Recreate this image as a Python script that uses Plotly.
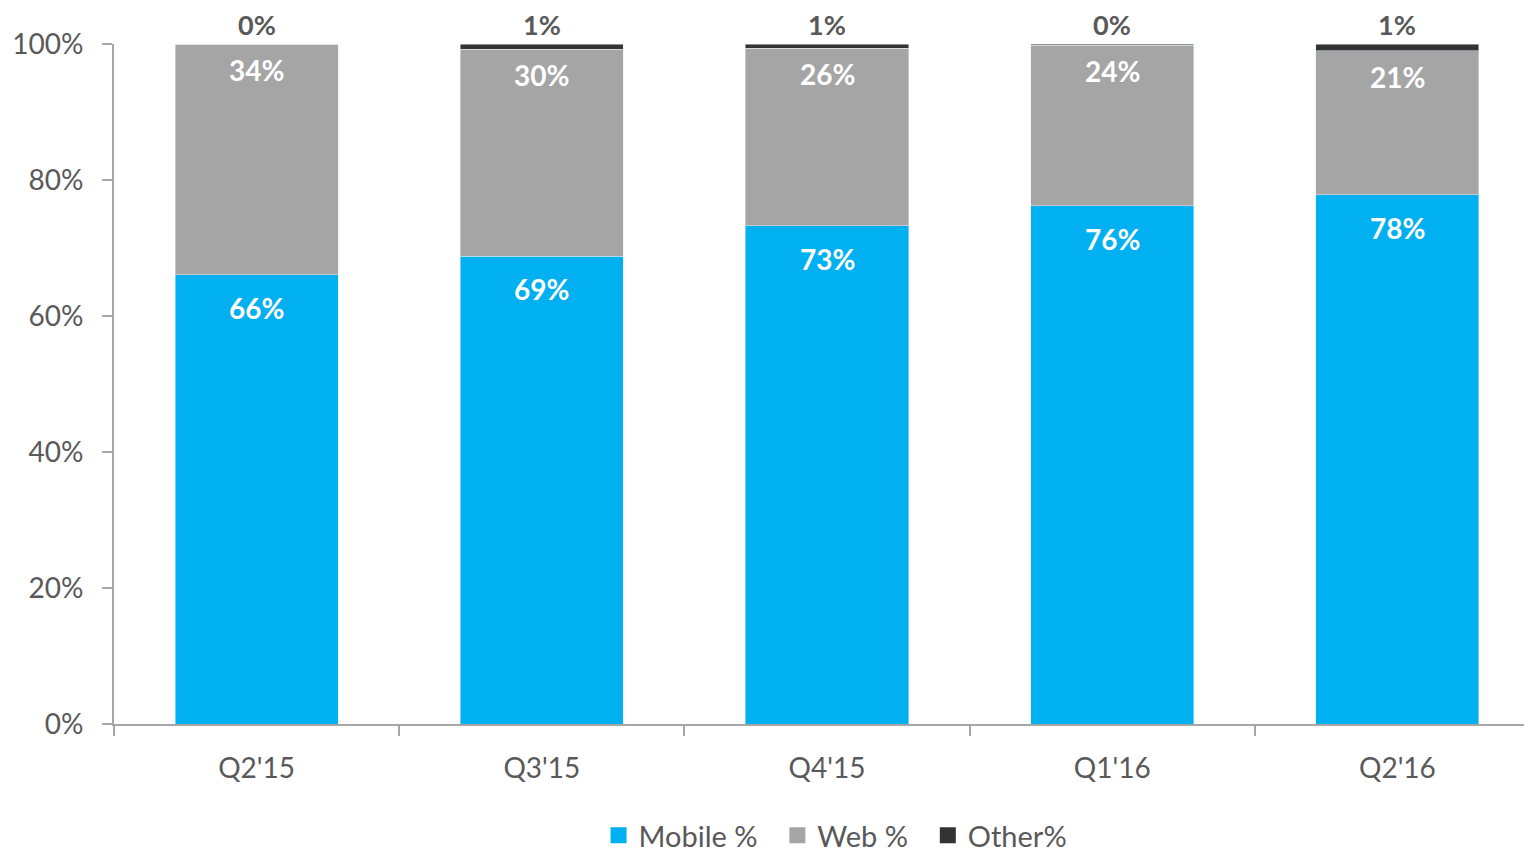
import plotly.graph_objects as go

categories = ["Q2'15", "Q3'15", "Q4'15", "Q1'16", "Q2'16"]
mobile = [0.661, 0.688, 0.733, 0.762, 0.778]
web = [0.339, 0.304, 0.261, 0.236, 0.212]
other = [0.0, 0.008, 0.006, 0.002, 0.010]
series_names = ["Mobile %", "Web %", "Other%"]

C_MOBILE = "#00B0F0"
C_WEB = "#A5A5A5"
C_OTHER = "#333333"
COLORS = [C_MOBILE, C_WEB, C_OTHER]
FONT = "Lato"
GREY_TXT = "#595959"
AXIS = "#A6A6A6"
PAD = "\u00a0\u00a0"

fig = go.Figure()
for name, vals, col in zip(series_names, [mobile, web, other], COLORS):
    fig.add_trace(go.Bar(x=categories, y=vals, name=name, marker_color=col, showlegend=False))
# legend entries with larger square swatches
for k, (name, col) in enumerate(zip(series_names, COLORS)):
    label = name + (PAD if k < len(series_names) - 1 else "")
    fig.add_trace(go.Scatter(x=[None], y=[None], mode="markers", name=label,
                             marker=dict(symbol="square", size=17, color=col)))

annotations = []
for i, c in enumerate(categories):
    m, w, o = mobile[i], web[i], other[i]
    annotations.append(dict(x=c, y=m, text=f"{m:.0%}", showarrow=False, yshift=-33,
                            font=dict(family=FONT, size=28, color="white", weight="bold")))
    annotations.append(dict(x=c, y=m + w, text=f"{w:.0%}", showarrow=False, yshift=-26,
                            font=dict(family=FONT, size=28, color="white", weight="bold")))
    annotations.append(dict(x=c, y=m + w + o, text=f"{o:.0%}", showarrow=False, yshift=20,
                            font=dict(family=FONT, size=27, color=GREY_TXT, weight="bold")))

fig.update_layout(
    barmode="stack",
    bargap=0.428,
    width=1532,
    height=853,
    margin=dict(l=106, r=0, t=36, b=136),
    plot_bgcolor="white",
    paper_bgcolor="white",
    font=dict(family=FONT, color=GREY_TXT, size=28),
    annotations=annotations,
    legend=dict(orientation="h", x=0.506, xanchor="center", y=-0.126, yanchor="top",
                font=dict(family=FONT, size=29, color=GREY_TXT), itemwidth=30,
                traceorder="normal"),
    xaxis=dict(showline=True, linecolor=AXIS, linewidth=2, ticks="outside",
               tickson="boundaries", ticklen=10, tickcolor=AXIS, tickwidth=2,
               tickfont=dict(family=FONT, size=28, color=GREY_TXT),
               ticklabelstandoff=18, automargin=False),
    yaxis=dict(range=[0, 1], tickformat=".0%", dtick=0.2, showgrid=False, zeroline=False,
               showline=True, linecolor=AXIS, linewidth=2, ticks="outside", ticklen=10,
               tickcolor=AXIS, tickwidth=2,
               tickfont=dict(family=FONT, size=28, color=GREY_TXT),
               ticklabelstandoff=13, automargin=False),
)

fig.write_html("out.html")
